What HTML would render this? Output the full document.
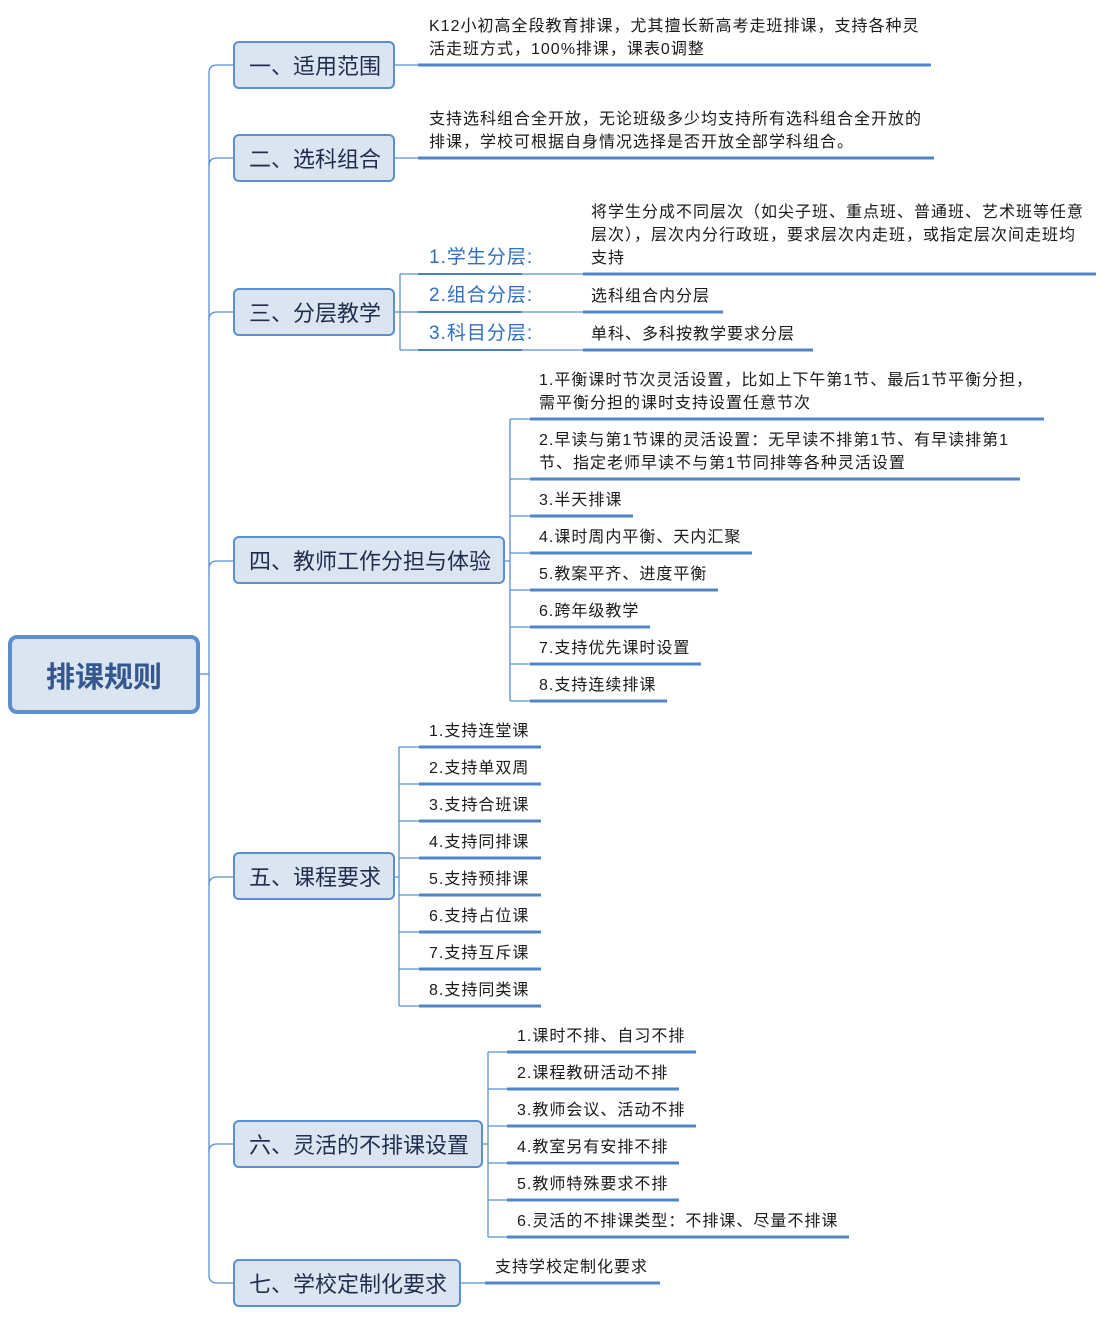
<!DOCTYPE html>
<html><head><meta charset="utf-8"><style>
body{margin:0;background:#fff;width:1109px;height:1325px;position:relative;overflow:hidden;font-family:"Liberation Sans","Noto Sans CJK SC",sans-serif;}
.t{position:absolute;font-size:16px;color:#1a1a1a;white-space:nowrap;line-height:23px;letter-spacing:1px;margin-top:1px;}
.b{position:absolute;box-sizing:border-box;background:#dbe5f1;border:2px solid #5b8fd0;border-radius:6px;font-size:22px;color:#1f2e4e;display:flex;align-items:center;padding-left:14px;white-space:nowrap;}
.l{position:absolute;font-size:19px;color:#2e6fc0;white-space:nowrap;line-height:24px;letter-spacing:1px;margin-top:1px;}
svg{position:absolute;left:0;top:0;}
</style></head><body>
<svg width="1109" height="1325">
<g fill="none" stroke="#5b8fd0" stroke-width="1.3">
<path d="M200,674 L209,674"/>
<path d="M233,65 L217,65 Q209,65 209,73 L209,1275 Q209,1283 217,1283 L233,1283"/>
<path d="M209,166 Q209,158 217,158 L233,158"/>
<path d="M209,320 Q209,312 217,312 L233,312"/>
<path d="M209,569 Q209,561 217,561 L233,561"/>
<path d="M209,885 Q209,877 217,877 L233,877"/>
<path d="M209,1152 Q209,1144 217,1144 L233,1144"/>
<path d="M395,65 L418,65"/>
<path d="M395,158 L418,158"/>
<path d="M395,312 L400,312 M400,274 L400,350 M400,274 L583,274 M400,312 L583,312 M400,350 L583,350"/>
<path d="M505,561 L510,561 M510,419 L510,701 M510,419 L530,419 M510,479 L530,479 M510,516 L530,516 M510,553 L530,553 M510,590 L530,590 M510,627 L530,627 M510,664 L530,664 M510,701 L530,701"/>
<path d="M395,877 L399,877 M399,747 L399,1006 M399,747 L419,747 M399,784 L419,784 M399,821 L419,821 M399,858 L419,858 M399,895 L419,895 M399,932 L419,932 M399,969 L419,969 M399,1006 L419,1006"/>
<path d="M483,1144 L488,1144 M488,1052 L488,1237 M488,1052 L507,1052 M488,1089 L507,1089 M488,1126 L507,1126 M488,1163 L507,1163 M488,1200 L507,1200 M488,1237 L507,1237"/>
<path d="M461,1283 L485,1283"/>
</g>
<g stroke="#1f5fb0" stroke-width="1.5"><path d="M418,274 L522,274 M418,312 L522,312 M418,350 L522,350"/></g>
<g stroke="#4f86c8" stroke-width="3">
<path d="M418,65 L931,65"/>
<path d="M418,158 L934,158"/>
<path d="M583,274 L1096,274 M583,312 L723,312 M583,350 L813,350"/>
<path d="M530,419 L1044,419 M530,479 L1020,479 M530,516 L633,516 M530,553 L752,553 M530,590 L718,590 M530,627 L650,627 M530,664 L701,664 M530,701 L667,701"/>
<path d="M419,747 L541,747 M419,784 L541,784 M419,821 L541,821 M419,858 L541,858 M419,895 L541,895 M419,932 L541,932 M419,969 L541,969 M419,1006 L541,1006"/>
<path d="M507,1052 L696,1052 M507,1089 L679,1089 M507,1126 L696,1126 M507,1163 L679,1163 M507,1200 L679,1200 M507,1237 L849,1237"/>
<path d="M485,1283 L660,1283"/>
</g>
</svg>
<div style="position:absolute;left:8px;top:635px;width:192px;height:79px;box-sizing:border-box;background:#dbe5f1;border:4px solid #5b8fd0;border-radius:9px;display:flex;align-items:center;justify-content:center;font-size:29px;font-weight:bold;color:#34578f;">排课规则</div>
<div class="b" style="left:233px;top:41px;width:162px;height:48px;">一、适用范围</div>
<div class="b" style="left:233px;top:134px;width:162px;height:48px;">二、选科组合</div>
<div class="b" style="left:233px;top:288px;width:162px;height:48px;">三、分层教学</div>
<div class="b" style="left:233px;top:536px;width:272px;height:48px;">四、教师工作分担与体验</div>
<div class="b" style="left:233px;top:852px;width:162px;height:48px;">五、课程要求</div>
<div class="b" style="left:233px;top:1120px;width:250px;height:48px;">六、灵活的不排课设置</div>
<div class="b" style="left:233px;top:1259px;width:228px;height:48px;">七、学校定制化要求</div>

<div class="t" style="left:429px;top:14px;">K12小初高全段教育排课，尤其擅长新高考走班排课，支持各种灵<br>活走班方式，100%排课，课表0调整</div>
<div class="t" style="left:429px;top:107px;">支持选科组合全开放，无论班级多少均支持所有选科组合全开放的<br>排课，学校可根据自身情况选择是否开放全部学科组合。</div>

<div class="l" style="left:429px;top:245px;">1.学生分层:</div>
<div class="l" style="left:429px;top:283px;">2.组合分层:</div>
<div class="l" style="left:429px;top:321px;">3.科目分层:</div>
<div class="t" style="left:591px;top:200px;">将学生分成不同层次（如尖子班、重点班、普通班、艺术班等任意<br>层次），层次内分行政班，要求层次内走班，或指定层次间走班均<br>支持</div>
<div class="t" style="left:591px;top:284px;">选科组合内分层</div>
<div class="t" style="left:591px;top:322px;">单科、多科按教学要求分层</div>

<div class="t" style="left:539px;top:368px;">1.平衡课时节次灵活设置，比如上下午第1节、最后1节平衡分担，<br>需平衡分担的课时支持设置任意节次</div>
<div class="t" style="left:539px;top:428px;">2.早读与第1节课的灵活设置：无早读不排第1节、有早读排第1<br>节、指定老师早读不与第1节同排等各种灵活设置</div>
<div class="t" style="left:539px;top:488px;">3.半天排课</div>
<div class="t" style="left:539px;top:525px;">4.课时周内平衡、天内汇聚</div>
<div class="t" style="left:539px;top:562px;">5.教案平齐、进度平衡</div>
<div class="t" style="left:539px;top:599px;">6.跨年级教学</div>
<div class="t" style="left:539px;top:636px;">7.支持优先课时设置</div>
<div class="t" style="left:539px;top:673px;">8.支持连续排课</div>

<div class="t" style="left:429px;top:719px;">1.支持连堂课</div>
<div class="t" style="left:429px;top:756px;">2.支持单双周</div>
<div class="t" style="left:429px;top:793px;">3.支持合班课</div>
<div class="t" style="left:429px;top:830px;">4.支持同排课</div>
<div class="t" style="left:429px;top:867px;">5.支持预排课</div>
<div class="t" style="left:429px;top:904px;">6.支持占位课</div>
<div class="t" style="left:429px;top:941px;">7.支持互斥课</div>
<div class="t" style="left:429px;top:978px;">8.支持同类课</div>

<div class="t" style="left:517px;top:1024px;">1.课时不排、自习不排</div>
<div class="t" style="left:517px;top:1061px;">2.课程教研活动不排</div>
<div class="t" style="left:517px;top:1098px;">3.教师会议、活动不排</div>
<div class="t" style="left:517px;top:1135px;">4.教室另有安排不排</div>
<div class="t" style="left:517px;top:1172px;">5.教师特殊要求不排</div>
<div class="t" style="left:517px;top:1209px;">6.灵活的不排课类型：不排课、尽量不排课</div>

<div class="t" style="left:495px;top:1255px;">支持学校定制化要求</div>
</body></html>
